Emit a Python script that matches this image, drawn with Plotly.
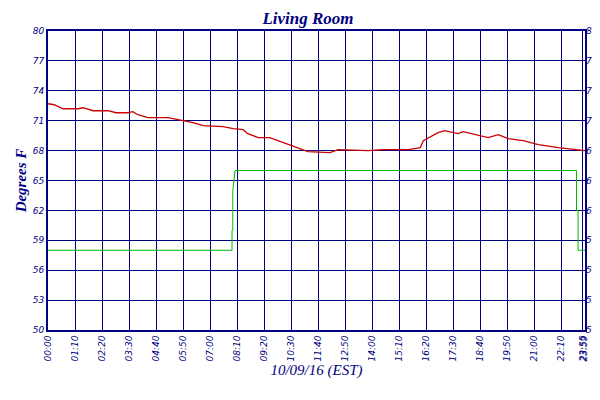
import plotly.graph_objects as go

NAVY = "#000080"

# minutes after midnight / degrees F for Living Room
room_min = [0, 16, 39, 78, 91, 117, 156, 176, 207, 220, 233, 259, 311, 350, 376, 402, 454, 480,
            506, 518, 545, 575, 596, 648, 674, 731, 752, 830, 869, 934, 965, 973, 1011,
            1029, 1063, 1076, 1105, 1141, 1167, 1193, 1232, 1271, 1323, 1362, 1392]
room_temp = [72.7, 72.6, 72.2, 72.2, 72.3, 72.0, 72.0, 71.8, 71.8, 71.9, 71.6, 71.3, 71.3, 71.0,
             70.8, 70.5, 70.4, 70.2, 70.1, 69.7, 69.3, 69.3, 69.0, 68.3, 67.9, 67.8, 68.1, 68.0,
             68.1, 68.1, 68.3, 69.0, 69.8, 70.0, 69.7, 69.9, 69.6, 69.3, 69.6, 69.2, 69.0, 68.6,
             68.3, 68.1, 68.0]

# setback schedule
set_min = [0, 477, 477, 479, 479, 485, 1370, 1370, 1374, 1374, 1392]
set_temp = [58, 58, 60, 60, 64, 66, 66, 62, 62, 58, 58]

tick_vals = [i * 70 for i in range(20)] + [1386, 1390]
tick_text = ["%02d:%02d" % divmod(v, 60) for v in tick_vals[:20]] + ["23:55", "23:59"]
y_ticks = list(range(50, 81, 3))

fig = go.Figure()
fig.add_trace(go.Scatter(x=room_min, y=room_temp, name="<b>Living Room</b>", mode="lines",
                         line=dict(color="#cc0000", width=1.3)))
fig.add_trace(go.Scatter(x=set_min, y=set_temp, name="<b>Setback</b>", mode="lines",
                         line=dict(color="#00bb00", width=1)))
fig.add_trace(go.Scatter(x=[0], y=[50], yaxis="y2", showlegend=False, hoverinfo="skip",
                         mode="markers", marker=dict(opacity=0)))

axis_font = dict(family="DejaVu Sans", size=9, color=NAVY)
fig.update_layout(
    width=600, height=400,
    margin=dict(l=40, r=23, t=23, b=78, autoexpand=False),
    plot_bgcolor="white", paper_bgcolor="white",
    font=dict(style="italic"),
    title=dict(text="<b><i>Living Room</i></b>", x=0.5, y=0.99, yanchor="top",
               font=dict(family="Liberation Serif", size=17, color=NAVY)),
    xaxis=dict(range=[0, 1392], tickmode="array", tickvals=tick_vals, ticktext=tick_text,
               tickangle=-90, tickfont=axis_font, showgrid=True, gridcolor=NAVY, gridwidth=1.2,
               showline=True, linecolor=NAVY, linewidth=2, mirror=True, zeroline=False,
               automargin=False,
               title=dict(text="<i>10/09/16 (EST)</i>", font=dict(family="Liberation Serif", size=15, color=NAVY),
                          standoff=4)),
    yaxis=dict(range=[50, 80], tickvals=y_ticks, tickfont=axis_font, showgrid=True,
               gridcolor=NAVY, gridwidth=1.2, showline=True, linecolor=NAVY, linewidth=2,
               mirror=True, zeroline=False, automargin=False,
               title=dict(text="<b><i>Degrees F</i></b>", font=dict(family="Liberation Serif", size=15, color=NAVY),
                          standoff=2)),
    yaxis2=dict(range=[50, 80], tickvals=y_ticks, tickfont=axis_font, overlaying="y",
                side="right", showgrid=False, zeroline=False, automargin=False),
    legend=dict(orientation="h", x=0.5, xanchor="center", y=-0.2, yanchor="top",
                itemwidth=30, font=dict(family="Liberation Serif", size=13, color=NAVY)),
)
fig.write_html("out.html")
